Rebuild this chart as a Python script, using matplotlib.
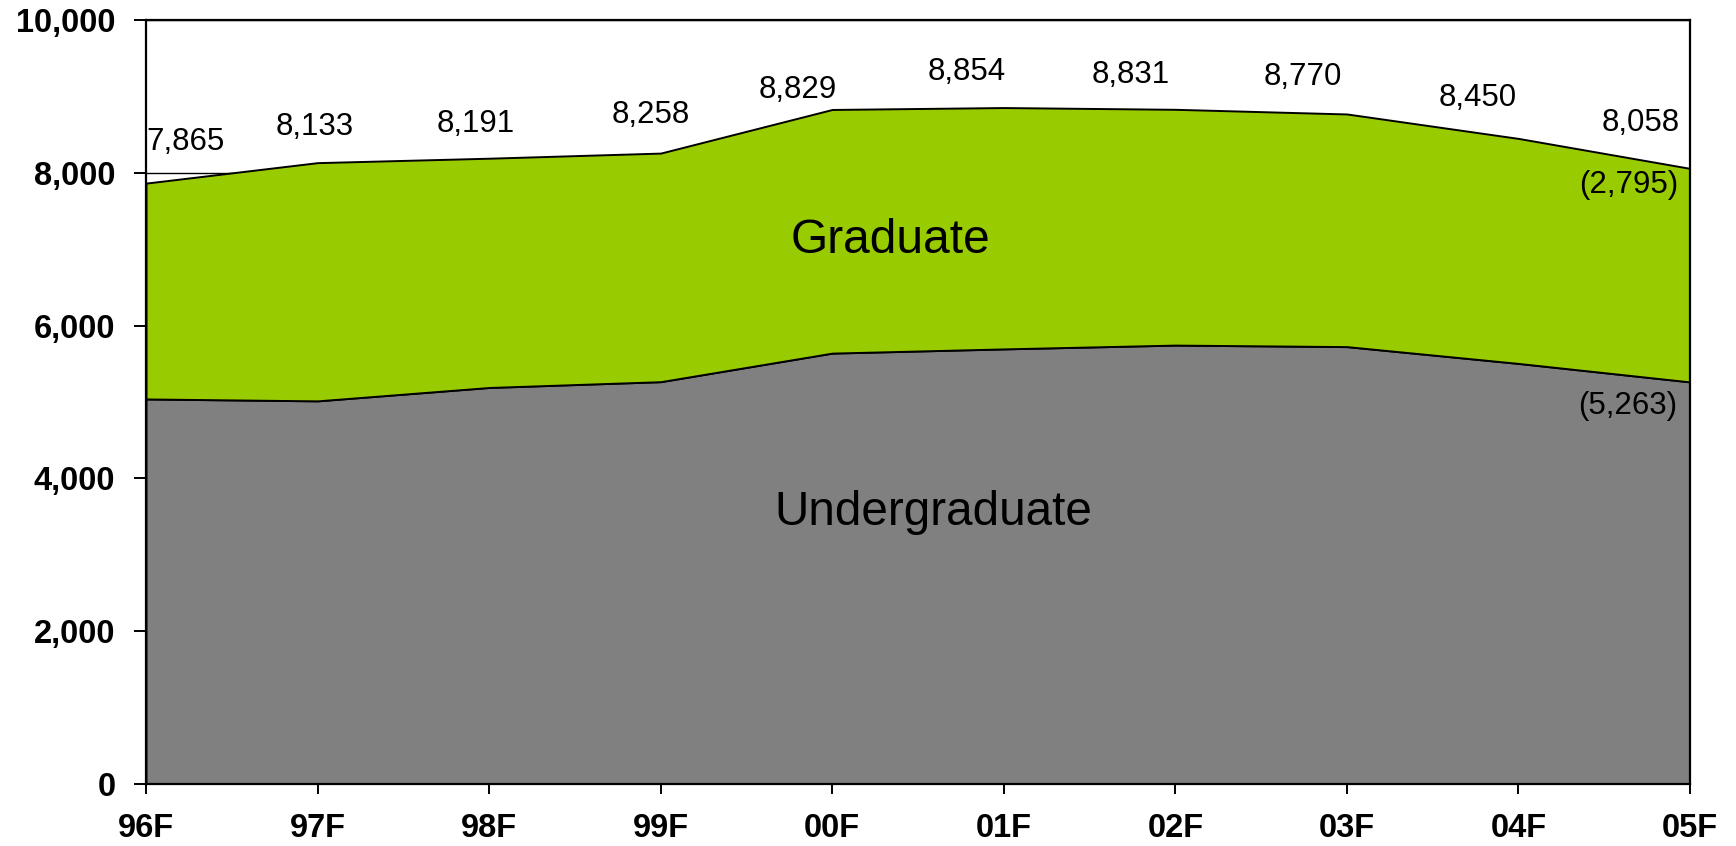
import matplotlib
matplotlib.use("Agg")
import matplotlib.pyplot as plt
from matplotlib.ticker import FuncFormatter, MultipleLocator

plt.rcParams['font.family'] = ['Liberation Sans', 'DejaVu Sans']

# ---- data ----
categories = ["96F", "97F", "98F", "99F", "00F", "01F", "02F", "03F", "04F", "05F"]
undergraduate = [5040, 5015, 5190, 5266, 5640, 5695, 5745, 5725, 5505, 5263]
graduate = [2825, 3118, 3001, 2992, 3189, 3159, 3086, 3045, 2945, 2795]
totals = [7865, 8133, 8191, 8258, 8829, 8854, 8831, 8770, 8450, 8058]
total_labels = ["7,865", "8,133", "8,191", "8,258", "8,829", "8,854", "8,831", "8,770", "8,450", "8,058"]
end_grad_label = "(2,795)"
end_under_label = "(5,263)"

# ---- styles / positions (pixel offsets of label baselines) ----
total_offsets = [(40, 33), (-3, 28), (-13, 26), (-10, 30), (-34, 11), (-37, 28),
                 (-45, 26), (-44, 29), (-41, 32), (-49, 37)]
GREEN = "#99CC00"
GRAY = "#808080"

fig = plt.figure(figsize=(17.36, 8.46), dpi=100)
ax = fig.add_axes([146 / 1736, 62 / 846, 1544 / 1736, 764 / 846])

x = list(range(len(categories)))
ax.stackplot(x, undergraduate, graduate, colors=[GRAY, GREEN],
             edgecolor="black", linewidth=1.4, zorder=2)

ax.set_xlim(0, len(categories) - 1)
ax.set_ylim(0, 10000)
ax.yaxis.set_major_locator(MultipleLocator(2000))
ax.yaxis.set_major_formatter(FuncFormatter(lambda v, p: f"{int(v):,}"))
ax.set_xticks(x)
ax.set_xticklabels(categories)

ax.set_axisbelow(True)
ax.grid(axis="y", color="black", linewidth=1.0, zorder=0.5)
ax.grid(axis="x", visible=False)

for s in ax.spines.values():
    s.set_linewidth(1.6)
    s.set_color("black")
    s.set_zorder(5)

ax.tick_params(axis="y", direction="out", length=9, width=1.4, pad=13,
               labelsize=23.5)
ax.tick_params(axis="x", direction="out", length=7, width=1.4, pad=14,
               labelsize=23.5)
for lab in ax.get_xticklabels() + ax.get_yticklabels():
    lab.set_fontweight("bold")

# total labels
for i, (t, lbl) in enumerate(zip(totals, total_labels)):
    dx, dy = total_offsets[i]
    ax.annotate(lbl, xy=(i, t), xytext=(dx, dy), textcoords="offset pixels",
                ha="center", va="baseline", fontsize=22.5, color="black", zorder=6)

# end-point labels
last = len(categories) - 1
ax.annotate(end_grad_label, xy=(last, totals[last]), xytext=(-61, -25),
            textcoords="offset pixels", ha="center", va="baseline", fontsize=22.5, zorder=6)
ax.annotate(end_under_label, xy=(last, undergraduate[last]), xytext=(-62, -32),
            textcoords="offset pixels", ha="center", va="baseline", fontsize=22.5, zorder=6)

# area names
ax.text(4.337, 6950, "Graduate", ha="center", va="baseline", fontsize=34.5, zorder=6)
ax.text(4.587, 3390, "Undergraduate", ha="center", va="baseline", fontsize=34.3, zorder=6)

fig.savefig("out.png", dpi=100)
